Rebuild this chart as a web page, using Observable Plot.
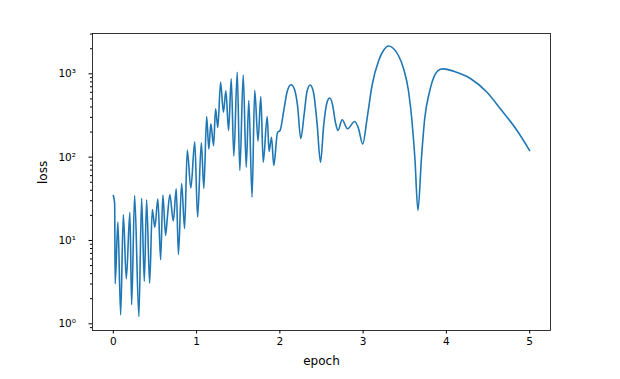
<!DOCTYPE html>
<html>
<head>
<meta charset="utf-8">
<script src="https://cdn.jsdelivr.net/npm/d3@7"></script>
<script src="https://cdn.jsdelivr.net/npm/@observablehq/plot@0.6"></script>
<style>
  html, body { margin: 0; padding: 0; background: #fff; }
  svg { font-family: "DejaVu Sans", sans-serif; }
</style>
</head>
<body>
<div id="chart"></div>
<script>
const epoch = [0.000,0.016,0.022,0.055,0.088,0.120,0.156,0.199,0.220,0.256,0.307,0.340,0.372,0.400,0.436,0.468,0.499,0.535,0.568,0.595,0.628,0.648,0.679,0.720,0.756,0.782,0.820,0.856,0.888,0.931,0.978,1.012,1.057,1.087,1.121,1.147,1.171,1.204,1.228,1.255,1.288,1.322,1.352,1.384,1.416,1.447,1.488,1.519,1.560,1.596,1.627,1.666,1.698,1.738,1.771,1.800,1.848,1.870,1.900,1.927,1.972,2.002,2.047,2.088,2.134,2.176,2.212,2.251,2.290,2.326,2.364,2.404,2.446,2.488,2.527,2.566,2.599,2.632,2.668,2.698,2.748,2.812,2.899,2.944,2.995,3.048,3.108,3.187,3.244,3.307,3.364,3.424,3.487,3.544,3.588,3.622,3.658,3.700,3.739,3.796,3.868,3.928,3.967,4.087,4.288,4.488,4.648,4.848,5.000];
const loss = [34.7,27.8,3.02,16.6,1.28,20.5,3.47,21.8,1.69,34.7,1.22,32.1,3.24,30.8,3.07,23.5,14.4,31.6,5.86,35.1,11.5,18.4,35.6,17.1,41.7,6.79,48.3,13.9,122,42.7,153,19.1,149,42.1,307,125,251,138,380,227,794,346,626,209,871,103,1045,69.2,968,75.7,479,33.0,636,156,534,86.9,307,117,173,79.4,198,209,363,613,738,648,417,167,316,613,734,597,260,86.9,246,453,513,428,260,209,281,219,268,221,144,295,734,1445,1905,2158,2013,1660,1142,631,262,95.5,22.9,96.4,288,601,1000,1132,1148,1074,879,601,380,209,120];
const xTicks = [0,1,2,3,4,5];
const yTicks = [1,10,100,1000];
const yTickLabels = ["10⁰","10¹","10²","10³"];
const xLabel = "epoch";
const yLabel = "loss";

const data = epoch.map((e, i) => ({epoch: e, loss: loss[i]}));
const minor = [];
for (let k = -1; k <= 3; k++) for (let m = 2; m <= 9; m++) {
  const v = m * Math.pow(10, k);
  if (v > 0.831 && v < 3048) minor.push(v);
}

const chart = Plot.plot({
  width: 620,
  height: 379,
  marginLeft: 92,
  marginRight: 70,
  marginTop: 33,
  marginBottom: 49,
  style: {fontSize: "10.5px", fontFamily: "DejaVu Sans, sans-serif", color: "#000", background: "#fff"},
  x: {domain: [-0.25, 5.25]},
  y: {type: "log", domain: [0.831, 3048]},
  marks: [
    Plot.line(data, {x: "epoch", y: "loss", stroke: "#1f77b4", strokeWidth: 1.6, curve: "monotone-x"}),
    Plot.frame({stroke: "#000", strokeWidth: 0.8}),
    Plot.axisX({ticks: xTicks, tickSize: 3.5, tickPadding: 3.5, tickFormat: d => String(d), label: null}),
    Plot.axisY({ticks: yTicks, tickSize: 3.5, tickPadding: 13, tickFormat: (d, i) => yTickLabels[yTicks.indexOf(d)], label: null}),
    Plot.axisY({ticks: minor, tickSize: 2, tickFormat: () => "", label: null}),
    Plot.text([xLabel], {text: d => d, frameAnchor: "bottom", dy: 34, fontSize: 12}),
    Plot.text([yLabel], {text: d => d, frameAnchor: "left", dx: -49, dy: 2, rotate: -90, fontSize: 12})
  ]
});
document.getElementById("chart").appendChild(chart);
</script>
</body>
</html>
